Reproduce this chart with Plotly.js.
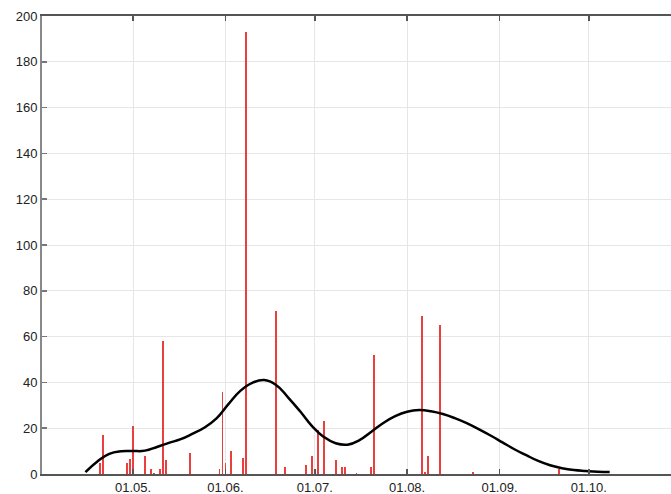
<!DOCTYPE html>
<html>
<head>
<meta charset="utf-8">
<script src="https://cdn.plot.ly/plotly-3.0.1.min.js"></script>
<style>html,body{margin:0;padding:0;background:#fff;}#chart{width:671px;height:494px;}</style>
</head>
<body>
<div id="chart"></div>
<script>
// Daily counts (red bars)
var barDates = ['2011-04-20','2011-04-21','2011-04-29','2011-04-30','2011-05-01','2011-05-05','2011-05-07','2011-05-08','2011-05-10','2011-05-11','2011-05-12','2011-05-20',
  '2011-05-30','2011-05-31','2011-06-01','2011-06-03','2011-06-07','2011-06-08','2011-06-18','2011-06-21','2011-06-28','2011-06-30',
  '2011-07-02','2011-07-04','2011-07-08','2011-07-10','2011-07-11','2011-07-15','2011-07-20','2011-07-21',
  '2011-08-06','2011-08-07','2011-08-08','2011-08-12','2011-08-23','2011-09-21'];
var barValues = [5,17,5,6.5,21,8,2,0.6,2,58,6,9,
  2,36,5,10,7,193,71,3,4,8,
  19,23,6,3,3,0.6,3,52,
  69,1,8,65,1,2];

// Smoothed curve (black line), read every 4 days
var curveDates = ['2011-04-15','2011-04-19','2011-04-23','2011-04-27','2011-05-01','2011-05-05','2011-05-09','2011-05-13','2011-05-17','2011-05-21','2011-05-25','2011-05-29',
  '2011-06-02','2011-06-06','2011-06-10','2011-06-14','2011-06-18','2011-06-22','2011-06-26','2011-06-30',
  '2011-07-04','2011-07-08','2011-07-12','2011-07-16','2011-07-20','2011-07-24','2011-07-28',
  '2011-08-01','2011-08-05','2011-08-09','2011-08-13','2011-08-17','2011-08-21','2011-08-25','2011-08-29',
  '2011-09-02','2011-09-06','2011-09-10','2011-09-14','2011-09-18','2011-09-22','2011-09-26','2011-09-30','2011-10-04','2011-10-08'];
var curveValues = [0.8,5.5,8.8,9.9,10,10.2,11.8,13.6,15.2,17.6,20.3,24.3,
  30.5,36.3,39.8,41,38.9,33.5,27.5,21,
  16.2,13.4,12.8,14.8,18.5,22.3,25.3,
  27.2,27.9,27.4,26.2,24.4,22.2,19.6,16.8,
  13.8,10.8,8.2,5.7,3.8,2.5,1.7,1.3,1.0,0.9];

var xTickVals = ['2011-05-01','2011-06-01','2011-07-01','2011-08-01','2011-09-01','2011-10-01'];
var xTickText = ['01.05.','01.06.','01.07.','01.08.','01.09.','01.10.'];

var traces = [
  {type:'bar', x: barDates, y: barValues, width: 0.62*86400000,
   marker:{color:'#e8403f', line:{width:0}}, hoverinfo:'skip'},
  {type:'scatter', mode:'lines', x: curveDates, y: curveValues,
   line:{color:'#000', width:2.5, shape:'spline', smoothing:1.3}, hoverinfo:'skip'}
];

var layout = {
  width:671, height:494,
  margin:{l:42, r:0, t:16, b:20},
  paper_bgcolor:'#fff', plot_bgcolor:'#fff',
  showlegend:false,
  font:{family:'Arial, "Liberation Sans", Helvetica, sans-serif', color:'#222', size:13},
  xaxis:{
    type:'date',
    range:['2011-03-31 10:00','2011-10-28 14:00'],
    tickmode:'array', tickvals:xTickVals, ticktext:xTickText,
    ticks:'inside', ticklen:5, tickwidth:1.5, tickcolor:'#555',
    showgrid:true, gridcolor:'#e6e6e6', gridwidth:1,
    showline:true, linecolor:'#555', linewidth:2, mirror:'ticks',
    zeroline:false, tickfont:{size:13, color:'#222'}
  },
  yaxis:{
    range:[0,200], dtick:20, tick0:0,
    ticks:'inside', ticklen:5, tickwidth:1.5, tickcolor:'#777',
    showgrid:true, gridcolor:'#e6e6e6', gridwidth:1,
    showline:true, linecolor:'#888', linewidth:2, mirror:false,
    zeroline:false, tickfont:{size:13, color:'#222'}
  },
  bargap:0
};

Plotly.newPlot('chart', traces, layout, {staticPlot:true, displayModeBar:false});
</script>
</body>
</html>
